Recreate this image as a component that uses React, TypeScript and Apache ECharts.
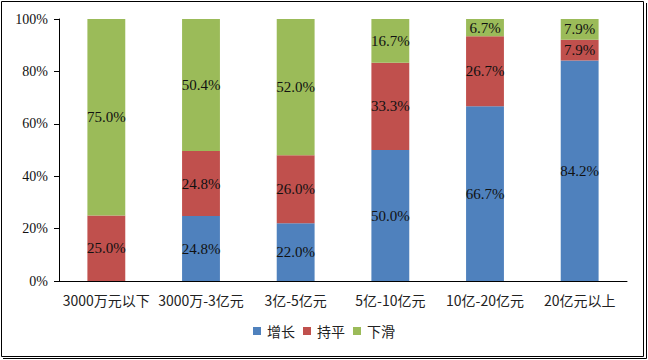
import React, { useEffect, useRef } from "react";
import * as echarts from "echarts";

const categories = ["3000万元以下", "3000万-3亿元", "3亿-5亿元", "5亿-10亿元", "10亿-20亿元", "20亿元以上"];
const growth = [0, 24.8, 22.0, 50.0, 66.7, 84.2];
const flat = [25.0, 24.8, 26.0, 33.3, 26.7, 7.9];
const decline = [75.0, 50.4, 52.0, 16.7, 6.7, 7.9];
const yTicks = [0, 20, 40, 60, 80, 100];

const labelStyle = {
  show: true,
  position: "inside" as const,
  color: "#111",
  fontFamily: "'Liberation Serif', 'Times New Roman', serif",
  fontSize: 15,
  formatter: (p: any) => (p.value ? Number(p.value).toFixed(1) + "%" : ""),
};

export default function App() {
  const ref = useRef<HTMLDivElement>(null);
  useEffect(() => {
    if (!ref.current) return;
    const chart = echarts.init(ref.current, undefined, { renderer: "svg" });
    const mk = (name: string, data: number[], color: string) => ({
      name,
      type: "bar" as const,
      stack: "total",
      data,
      barWidth: "40%",
      itemStyle: { color },
      label: labelStyle,
    });
    chart.setOption({
      animation: false,
      backgroundColor: "#fff",
      grid: { left: 59, right: 21, top: 19, bottom: 79 },
      xAxis: {
        type: "category",
        data: categories,
        axisLine: { lineStyle: { color: "#000", width: 1 } },
        axisTick: { show: false },
        axisLabel: {
          color: "#222",
          fontFamily: "'Noto Sans CJK SC', sans-serif",
          fontSize: 14,
          margin: 12,
          interval: 0,
        },
      },
      yAxis: {
        type: "value",
        min: 0,
        max: 100,
        interval: 20,
        axisLine: { show: true, lineStyle: { color: "#000", width: 1 } },
        axisTick: { show: true, inside: false, length: 5, lineStyle: { color: "#000" } },
        splitLine: { show: false },
        axisLabel: {
          color: "#111",
          fontFamily: "'Liberation Serif', 'Times New Roman', serif",
          fontSize: 14,
          margin: 11,
          formatter: (v: number) => (yTicks.includes(v) ? v + "%" : ""),
        },
      },
      legend: {
        data: ["增长", "持平", "下滑"],
        bottom: 17,
        left: "center",
        itemWidth: 8,
        itemHeight: 8,
        itemGap: 8,
        icon: "rect",
        textStyle: {
          color: "#222",
          fontFamily: "'Noto Sans CJK SC', sans-serif",
          fontSize: 14,
          padding: [0, 0, 0, 1],
        },
      },
      graphic: [
        {
          type: "rect",
          shape: { x: 1.5, y: 1.5, width: 642, height: 355 },
          style: { fill: "none", stroke: "#000", lineWidth: 1 },
          silent: true,
        },
        {
          type: "polyline",
          shape: { points: [[646.5, 3], [646.5, 358.5], [3, 358.5]] },
          style: { fill: "none", stroke: "#000", lineWidth: 1 },
          silent: true,
        },
      ],
      series: [
        mk("增长", growth, "#4F81BD"),
        mk("持平", flat, "#C0504D"),
        mk("下滑", decline, "#9BBB59"),
      ],
    });
    return () => chart.dispose();
  }, []);
  return (
    <div
      ref={ref}
      style={{ position: "fixed", left: 0, top: 0, width: 648, height: 360 }}
    />
  );
}
